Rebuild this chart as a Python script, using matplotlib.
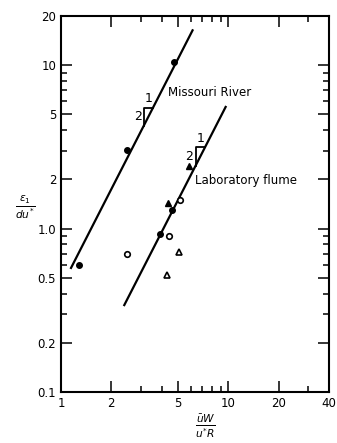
import numpy as np
import matplotlib.pyplot as plt

# data
river_x = [1.29, 2.47, 4.74]
river_y = [0.60, 3.03, 10.5]
flume_fc_x = [3.9, 4.6]
flume_fc_y = [0.93, 1.30]
flume_oc_x = [2.47, 4.45, 5.15]
flume_oc_y = [0.70, 0.90, 1.50]
flume_ft_x = [4.38, 5.8]
flume_ft_y = [1.43, 2.43]
flume_ot_x = [4.3, 5.1]
flume_ot_y = [0.52, 0.72]

# fitted lines, slope 2 in log-log
river_line_x = [1.148, 6.12]
river_coef = 0.436
flume_line_x = [2.39, 9.65]
flume_coef = 0.0596

plt.rcParams['font.family'] = 'DejaVu Sans'
fig = plt.figure(figsize=(3.37, 4.43), dpi=100)
ax = fig.add_axes([0.181, 0.115, 0.795, 0.849])
ax.set_xscale('log')
ax.set_yscale('log')
ax.set_xlim(1, 40)
ax.set_ylim(0.1, 20)

k = 'black'
rx = np.array(river_line_x)
ax.plot(rx, river_coef * rx**2, color=k, lw=1.6)
fx = np.array(flume_line_x)
ax.plot(fx, flume_coef * fx**2, color=k, lw=1.6)

ax.plot(river_x, river_y, 'o', color=k, ms=4)
ax.plot(flume_fc_x, flume_fc_y, 'o', color=k, ms=4)
ax.plot(flume_oc_x, flume_oc_y, 'o', mfc='white', mec=k, mew=1.2, ms=4)
ax.plot(flume_ft_x, flume_ft_y, '^', color=k, ms=4)
ax.plot(flume_ot_x, flume_ot_y, '^', mfc='white', mec=k, mew=1.2, ms=4)

# slope triangles
def slope_tri(x0, x1, coef):
    y0 = coef * x0**2
    y1 = coef * x1**2
    ax.plot([x0, x0, x1], [y0, y1, y1], color=k, lw=1.3)
    ax.text(x0 * 0.97, np.sqrt(y0 * y1), '2', ha='right', va='center', fontsize=9)
    ax.text(np.sqrt(x0 * x1), y1 * 1.04, '1', ha='center', va='bottom', fontsize=9)

slope_tri(3.13, 3.55, river_coef)
slope_tri(6.38, 7.26, flume_coef)

ax.text(4.36, 6.77, 'Missouri River', fontsize=8.5, va='center', ha='left')
ax.text(6.32, 1.98, 'Laboratory flume', fontsize=8.5, va='center', ha='left')

ax.set_xticks([1, 2, 5, 10, 20, 40])
ax.set_xticklabels(['1', '2', '5', '10', '20', '40'])
ax.set_yticks([0.1, 0.2, 0.5, 1, 2, 5, 10, 20])
ax.set_yticklabels(['0.1', '0.2', '0.5', '1.0', '2', '5', '10', '20'])
ax.tick_params(which='both', direction='in', top=True, right=True, labelsize=8.5, width=1.1)
ax.tick_params(which='major', length=8)
ax.tick_params(which='minor', length=4)
for s in ax.spines.values():
    s.set_linewidth(1.5)

ax.set_xlabel(r'$\frac{\bar{u}W}{u^{*}R}$', fontsize=11, labelpad=4)
ax.xaxis.set_label_coords(0.54, -0.055)
ax.set_ylabel(r'$\frac{\varepsilon_1}{du^{*}}$', fontsize=11, rotation=0, va='center')
ax.yaxis.set_label_coords(-0.135, 0.49)

fig.savefig('out.png', dpi=100)
